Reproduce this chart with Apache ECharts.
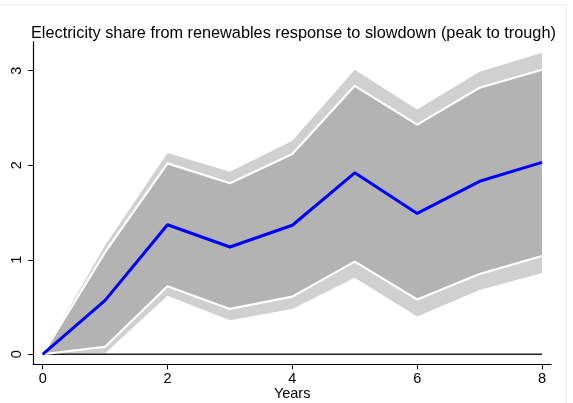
<!DOCTYPE html>
<html>
<head>
<meta charset="utf-8">
<script src="https://cdn.jsdelivr.net/npm/echarts@6/dist/echarts.min.js"></script>
<style>
html,body{margin:0;padding:0;background:#fff;}
#chart{width:573px;height:403px;}
</style>
</head>
<body>
<div id="chart"></div>
<script>
const years = [0, 1, 2, 3, 4, 5, 6, 7, 8];
const estimate   = [0, 0.57, 1.37, 1.135, 1.365, 1.92, 1.49, 1.83, 2.03];
const innerUpper = [0, 1.08, 2.02, 1.81, 2.12, 2.84, 2.43, 2.82, 3.01];
const innerLower = [0, 0.08, 0.72, 0.48, 0.61, 0.98, 0.58, 0.85, 1.04];
const outerUpper = [0, 1.15, 2.13, 1.93, 2.26, 3.01, 2.59, 2.99, 3.19];
const outerLower = [0, 0.01, 0.62, 0.36, 0.48, 0.81, 0.40, 0.68, 0.86];
const xTicks = [0, 2, 4, 6, 8];
const yTicks = [0, 1, 2, 3];
const titleText = 'Electricity share from renewables response to slowdown (peak to trough)';

const pair = (arr) => years.map((x, i) => [x, arr[i]]);

const chart = echarts.init(document.getElementById('chart'), null, {renderer: 'canvas'});
const font = 'Liberation Sans, Arial, Helvetica, sans-serif';

function bandSeries(name, upper, lower, color, z) {
  return {
    name, type: 'custom', silent: true, z,
    data: years.map((x, i) => [x, lower[i], upper[i]]),
    encode: {x: 0, y: [1, 2]},
    renderItem: function (params, api) {
      if (params.dataIndex !== 0) return null;
      const pts = [];
      for (let i = 0; i < years.length; i++) pts.push(api.coord([years[i], upper[i]]));
      for (let i = years.length - 1; i >= 0; i--) pts.push(api.coord([years[i], lower[i]]));
      return {type: 'polygon', shape: {points: pts}, style: {fill: color, stroke: null}};
    }
  };
}

chart.setOption({
  animation: false,
  backgroundColor: '#ffffff',
  title: {
    text: titleText, left: 26, top: 21,
    textStyle: {fontFamily: font, fontSize: 16.3, fontWeight: 'normal', color: '#000'}
  },
  grid: {left: 33.3, right: 22, top: 41.7, bottom: 38.7, containLabel: false, outerBoundsMode: 'none'},
  xAxis: {
    type: 'value', min: -0.15, max: 8.144,
    name: 'Years', nameLocation: 'middle', nameGap: 22, nameMoveOverlap: false,
    nameTextStyle: {fontFamily: font, fontSize: 14.5, color: '#000'},
    axisLine: {show: true, onZero: false, lineStyle: {color: '#000', width: 1.2}},
    axisTick: {show: true, customValues: xTicks, length: 5, lineStyle: {color: '#000'}},
    axisLabel: {customValues: xTicks, fontFamily: font, fontSize: 14.5, color: '#000', margin: 7},
    splitLine: {show: false}
  },
  yAxis: {
    type: 'value', min: -0.106, max: 3.307,
    axisLine: {show: true, onZero: false, lineStyle: {color: '#000', width: 1.2}},
    axisTick: {show: true, customValues: yTicks, length: 5, lineStyle: {color: '#000'}},
    axisLabel: {customValues: yTicks, rotate: 90, fontFamily: font, fontSize: 14.5, color: '#000', margin: 9},
    splitLine: {show: false}
  },
  graphic: [
    {type: 'line', shape: {x1: 0, y1: 5, x2: 566.5, y2: 5}, style: {stroke: '#e8eef0', lineWidth: 1}, silent: true},
    {type: 'line', shape: {x1: 566.5, y1: 5, x2: 566.5, y2: 403}, style: {stroke: '#e8eef0', lineWidth: 1}, silent: true}
  ],
  series: [
    bandSeries('outer', outerUpper, outerLower, '#d0d0d0', 1),
    bandSeries('inner', innerUpper, innerLower, '#b3b3b3', 2),
    {
      name: 'zero', type: 'line', data: pair(years.map(() => 0)), symbol: 'none', silent: true,
      lineStyle: {color: '#222', width: 1.6}, z: 3
    },
    {
      name: 'innerUpperLine', type: 'line', data: pair(innerUpper), symbol: 'none', silent: true,
      lineStyle: {color: '#ffffff', width: 2.2}, z: 4
    },
    {
      name: 'innerLowerLine', type: 'line', data: pair(innerLower), symbol: 'none', silent: true,
      lineStyle: {color: '#ffffff', width: 2.2}, z: 4
    },
    {
      name: 'estimate', type: 'line', data: pair(estimate), symbol: 'none', silent: true,
      lineStyle: {color: '#0000ff', width: 3}, z: 5
    }
  ]
});
</script>
</body>
</html>
